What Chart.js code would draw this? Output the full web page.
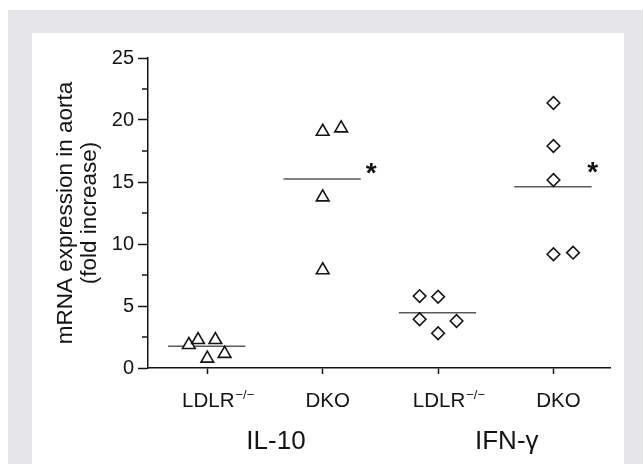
<!DOCTYPE html>
<html>
<head>
<meta charset="utf-8">
<script src="https://cdn.jsdelivr.net/npm/chart.js@4.4.1/dist/chart.umd.min.js"></script>
<style>
  html, body { margin: 0; padding: 0; background: #fff; }
  #frame { position: absolute; left: 8px; top: 10px; width: 635px; height: 454px; background: #e6e6e8; }
  #panel { position: absolute; left: 32px; top: 33px; width: 592px; height: 431px; background: #fff; }
  #myChart { position: absolute; left: 0; top: 0; }
</style>
</head>
<body>
<div id="frame"></div>
<div id="panel"></div>
<canvas id="myChart" width="643" height="464"></canvas>
<script>
// categories along the x axis, and the two groups under them
const categories = ["LDLR", "DKO", "LDLR", "DKO"];
const categorySup = ["\u2212/\u2212", "", "\u2212/\u2212", ""];
const groups = ["IL-10", "IFN-\u03b3"];
const yTicks = [0, 5, 10, 15, 20, 25];
const yTitle = ["mRNA expression in aorta", "(fold increase)"];

// individual animals (x offset from category centre, value)
const il10LdlrX = [-0.16, -0.08, 0.07, 0, 0.15];
const il10LdlrY = [1.87, 2.27, 2.27, 0.77, 1.15];
const il10DkoX = [0, 0.16, 0, 0];
const il10DkoY = [19.07, 19.34, 13.77, 7.9];
const ifnLdlrX = [-0.16, 0, -0.16, 0.16, 0];
const ifnLdlrY = [5.8, 5.75, 3.93, 3.79, 2.8];
const ifnDkoX = [0, 0, 0, 0, 0.17];
const ifnDkoY = [21.37, 17.9, 15.16, 9.17, 9.3];

// group means and significance marks
const means = [1.75, 15.24, 4.46, 14.62];
const starX = [1.42, 3.34];
const starY = [16.3, 16.37];

const fontFamily = "'Liberation Sans', Arial, Helvetica, sans-serif";
const ink = "#141414";

function points(idx, xs, ys) {
  return ys.map((y, k) => ({ x: idx + xs[k], y: y }));
}

function markerSet(idx, xs, ys, style, r) {
  return {
    type: "scatter",
    data: points(idx, xs, ys),
    pointStyle: style,
    pointRadius: r,
    pointHoverRadius: r,
    pointBorderWidth: 1.6,
    pointBorderColor: ink,
    pointBackgroundColor: "#fff",
  };
}

const meanSets = means.map((m, i) => ({
  type: "line",
  data: [{ x: i - 0.34, y: m }, { x: i + 0.33, y: m }],
  borderColor: "#5a5a5a",
  borderWidth: 1.4,
  pointRadius: 0,
  fill: false,
}));

const labelsPlugin = {
  id: "labels",
  afterDraw(chart) {
    const ctx = chart.ctx;
    const xs = chart.scales.x;
    const ys = chart.scales.y;
    const left = chart.chartArea.left;
    ctx.save();
    ctx.fillStyle = ink;
    ctx.strokeStyle = ink;

    // minor ticks
    ctx.lineWidth = 1.5;
    ys.ticks.forEach((t) => {
      if (yTicks.includes(t.value)) return;
      const py = ys.getPixelForValue(t.value);
      ctx.beginPath();
      ctx.moveTo(left - 6, py);
      ctx.lineTo(left, py);
      ctx.stroke();
    });

    // y title
    ctx.textAlign = "center";
    ctx.textBaseline = "alphabetic";
    ctx.font = "22.5px " + fontFamily;
    const midY = (chart.chartArea.top + chart.chartArea.bottom) / 2;
    [72, 96].forEach((bx, i) => {
      ctx.save();
      ctx.translate(bx, midY);
      ctx.rotate(-Math.PI / 2);
      ctx.fillText(yTitle[i], 0, 0);
      ctx.restore();
    });

    // category labels with superscripts
    categories.forEach((c, i) => {
      const px = xs.getPixelForValue(i);
      ctx.font = "20.5px " + fontFamily;
      ctx.textAlign = "center";
      const off = categorySup[i] ? 1 : 5;
      ctx.fillText(c, px + off, 407);
      if (categorySup[i]) {
        const w = ctx.measureText(c).width;
        ctx.font = "13px " + fontFamily;
        ctx.textAlign = "left";
        ctx.fillText(categorySup[i], px + off + w / 2 + 1, 399);
      }
    });

    // group labels
    ctx.font = "26px " + fontFamily;
    ctx.textAlign = "center";
    groups.forEach((g, i) => {
      const px = (xs.getPixelForValue(2 * i) + xs.getPixelForValue(2 * i + 1)) / 2;
      ctx.fillText(g, px + 11, 449);
    });

    // significance stars
    ctx.font = "bold 28px " + fontFamily;
    starX.forEach((sx, i) => {
      ctx.fillText("*", xs.getPixelForValue(sx), ys.getPixelForValue(starY[i]) + 16);
    });
    ctx.restore();
  },
};

const config = {
  type: "scatter",
  data: {
    datasets: [
      markerSet(0, il10LdlrX, il10LdlrY, "triangle", 7.3),
      markerSet(1, il10DkoX, il10DkoY, "triangle", 7.3),
      markerSet(2, ifnLdlrX, ifnLdlrY, "rectRot", 6.3),
      markerSet(3, ifnDkoX, ifnDkoY, "rectRot", 6.3),
      ...meanSets,
    ],
  },
  options: {
    responsive: false,
    animation: false,
    layout: { padding: { top: 58, right: 33, left: 0, bottom: 0 } },
    plugins: {
      legend: { display: false },
      tooltip: { enabled: false },
    },
    scales: {
      x: {
        type: "linear",
        min: -0.514,
        max: 3.49,
        afterBuildTicks: (scale) => {
          scale.ticks = categories.map((c, i) => ({ value: i }));
        },
        afterFit: (scale) => { scale.height = 96; },
        ticks: { callback: () => "", autoSkip: false },
        grid: { drawOnChartArea: false, tickLength: 6, tickColor: ink, tickWidth: 1.5 },
        border: { color: ink, width: 1.5 },
      },
      y: {
        min: 0,
        max: 25,
        afterFit: (scale) => { scale.width = 148; },
        ticks: {
          stepSize: 2.5,
          autoSkip: false,
          padding: 4,
          color: ink,
          font: { size: 20, family: fontFamily },
          callback: (v) => (yTicks.includes(v) ? v : ""),
        },
        grid: {
          drawOnChartArea: false,
          tickLength: 10,
          tickWidth: 1.5,
          tickColor: (c) => (yTicks.includes(c.tick.value) ? ink : "rgba(0,0,0,0)"),
        },
        border: { color: ink, width: 1.5 },
      },
    },
  },
  plugins: [labelsPlugin],
};

new Chart(document.getElementById("myChart"), config);
</script>
</body>
</html>
